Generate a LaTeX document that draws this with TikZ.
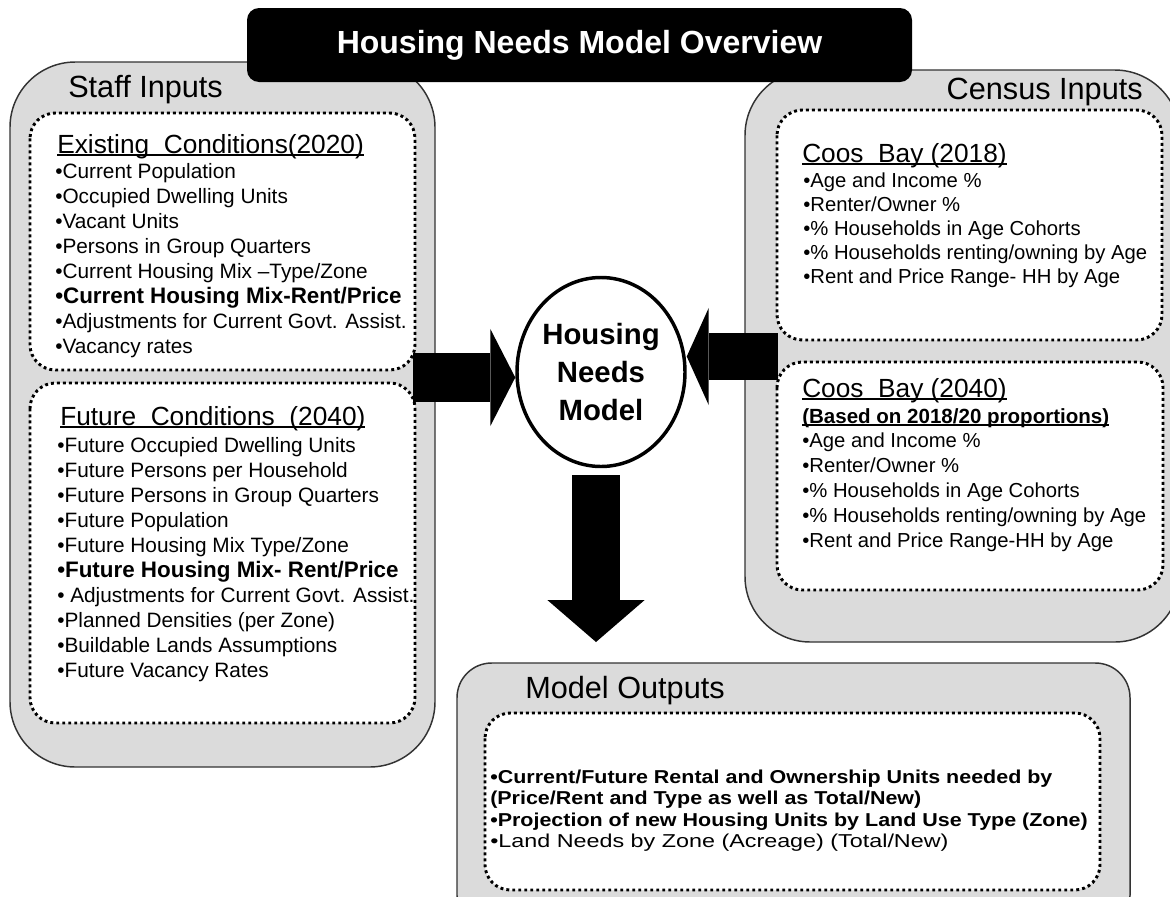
\documentclass[tikz,border=0pt]{standalone}
\usepackage{fontspec}
\setmainfont{Liberation Sans}
\newfontfamily\wideR[FakeStretch=1.25]{Liberation Sans}
\newfontfamily\wideB[FakeStretch=1.15]{Liberation Sans}
\usetikzlibrary{shapes.geometric,arrows.meta,positioning}

% underline sitting just under the baseline
\newcommand\hdul[1]{\sbox0{#1}\rlap{\rule[-2.2pt]{\wd0}{1.1pt}}\usebox0}

\tikzset{
    panel/.style={draw=black!80, fill=black!14, line width=1.1pt, rounded corners=49pt},
    dotbox/.style={draw=black, fill=white, line width=2.2pt, dash pattern=on 2.2pt off 2.3pt, rounded corners=19pt},
    paneltitle/.style={inner sep=0pt, font=\fontsize{23}{27}\selectfont},
    heading/.style={anchor=base west, inner sep=0pt, font=\fontsize{19.7}{23}\selectfont},
    leftitem/.style={anchor=base west, inner sep=0pt, font=\fontsize{15.6}{18}\selectfont},
    censusitem/.style={anchor=base west, inner sep=0pt, font=\fontsize{15.2}{18}\selectfont},
    outitem/.style={anchor=base west, inner sep=0pt, font=\fontsize{14}{17}\selectfont},
    blockarrow/.style={black, -{Triangle[length=#1, width=73pt, line width=0pt]}},
}

\begin{document}
\begin{tikzpicture}[x=0.75pt, y=-0.75pt]
    \useasboundingbox (0,0) rectangle (1170,896);
    \clip (0,0) rectangle (1170,896);

    % Panels
    \draw [panel] (10,62) rectangle (435,767);
    \draw [panel] (745,70) rectangle (1180,642);
    \draw [panel, rounded corners=26pt] (457,663) rectangle (1130,930);

    % Title
    \node [fill=black, rounded corners=9pt, minimum width=498.75pt, minimum height=55.5pt,
           text=white, font=\fontsize{24}{28}\selectfont\bfseries] (title) at (579.5,45) {Housing Needs Model Overview};

    % Dotted boxes
    \draw [dotbox] (30,113) rectangle (415,370);
    \draw [dotbox] (30,383) rectangle (415,723);
    \draw [dotbox] (777,110) rectangle (1162,340);
    \draw [dotbox] (777,362) rectangle (1163,590);
    \draw [dotbox] (485,713) rectangle (1100,890);

    % Model
    \node [draw, ellipse, line width=2.6pt, fill=white, minimum width=126pt, minimum height=141.75pt,
           inner sep=0pt, align=center, font=\fontsize{22}{28.5}\selectfont\bfseries] (model) at (601,372) {Housing\\Needs\\Model};

    % Arrows
    \coordinate (staffOut) at (413,377.5);
    \coordinate (censusOut) at (778,356.5);
    \coordinate (modelOut) at (596,475);
    \coordinate (outputsIn) at (596,642);
    \draw [blockarrow=18.75pt, line width=36.75pt] (staffOut) -- (staffOut -| model.west);
    \draw [blockarrow=16.5pt, line width=35.25pt] (censusOut) -- (censusOut -| model.east);
    \draw [blockarrow=31.5pt, line width=36pt] (modelOut) -- (outputsIn);

    % Staff inputs
    \node [paneltitle, anchor=base west] (staff) at (68,97) {Staff Inputs};
    \node [heading] (exHead) at (57,153) {\hdul{Existing~~Conditions(2020)}};
    \foreach \txt [count=\i] in {•Current Population, •Occupied Dwelling Units, •Vacant Units,
        •Persons in Group Quarters, •Current Housing Mix –Type/Zone,
        {\fontsize{16.8}{18}\selectfont\bfseries •Current Housing Mix-Rent/Price},
        •Adjustments for Current Govt. Assist., •Vacancy rates} {
        \node [leftitem] (ex\i) at (55,153+25*\i) {\txt};
    }
    \node [heading] (fuHead) at (60,425) {\hdul{Future~~Conditions~~(2040)}};
    \foreach \txt [count=\i] in {•Future Occupied Dwelling Units, •Future Persons per Household,
        •Future Persons in Group Quarters, •Future Population, •Future Housing Mix Type/Zone,
        {\fontsize{16.8}{18}\selectfont\bfseries •Future Housing Mix- Rent/Price},
        • Adjustments for Current Govt. Assist., •Planned Densities (per Zone),
        •Buildable Lands Assumptions, •Future Vacancy Rates} {
        \node [leftitem] (fu\i) at (57,427+25*\i) {\txt};
    }

    % Census inputs
    \node [paneltitle, anchor=base east] (census) at (1143,99) {Census Inputs};
    \node [heading] (cbHead) at (802,162) {\hdul{Coos~~Bay~(2018)}};
    \foreach \txt [count=\i] in {•Age and Income \%, •Renter/Owner \%, •\% Households in Age Cohorts,
        •\% Households renting/owning by Age, •Rent and Price Range- HH by Age} {
        \node [censusitem] (cb\i) at (803,163+24*\i) {\txt};
    }
    \node [heading] (cfHead) at (802,397) {\hdul{Coos~~Bay~(2040)}};
    \node [censusitem, font=\fontsize{15.4}{18}\selectfont\bfseries] (cfNote) at (802,423) {\hdul{(Based on 2018/20 proportions)}};
    \foreach \txt [count=\i] in {•Age and Income \%, •Renter/Owner \%, •\% Households in Age Cohorts,
        •\% Households renting/owning by Age, •Rent and Price Range-HH by Age} {
        \node [censusitem] (cf\i) at (802,422+25*\i) {\txt};
    }

    % Model outputs
    \node [paneltitle, anchor=base west] (outputs) at (525,698) {Model Outputs};
    \node [outitem] (out1) at (490,783) {\wideB\bfseries •Current/Future Rental and Ownership Units needed by};
    \node [outitem] (out2) at (490,804) {\wideB\bfseries (Price/Rent and Type as well as Total/New)};
    \node [outitem] (out3) at (490,826) {\wideB\bfseries •Projection of new Housing Units by Land Use Type (Zone)};
    \node [outitem] (out4) at (490,847) {\wideR •Land Needs by Zone (Acreage) (Total/New)};
\end{tikzpicture}
\end{document}
